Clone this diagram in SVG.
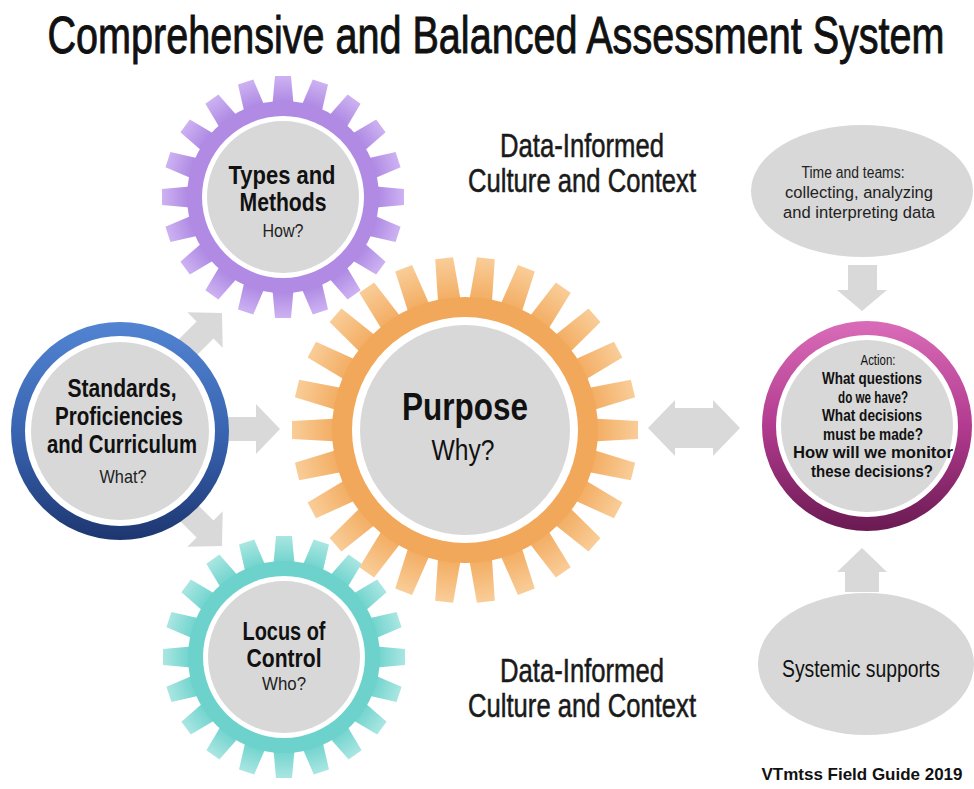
<svg xmlns="http://www.w3.org/2000/svg" width="974" height="789" viewBox="0 0 974 789">
<defs>
<style>
text{font-family:"Liberation Sans",Arial,sans-serif;fill:#111;text-anchor:middle}
.b{font-weight:bold}
.title{font-size:40px;stroke:#111;stroke-width:0.7px}
.ctx{font-size:28px;fill:#1a1a1a;stroke:#1a1a1a;stroke-width:0.45px}
.g1{font-size:21px;font-weight:bold}
.g2{font-size:16px;fill:#222}
.act{font-size:15px;font-weight:bold}
.ell{font-size:15px;fill:#222}
.arrow{fill:#d9d9d9}
.grey{fill:#d8d8d8}
</style>
<linearGradient id="tPurple" x1="0" y1="0" x2="0" y2="1"><stop offset="0" stop-color="#cdb2f2"/><stop offset="1" stop-color="#ad87e2"/></linearGradient>
<linearGradient id="tOrange" x1="0" y1="0" x2="0" y2="1"><stop offset="0" stop-color="#f9cd98"/><stop offset="1" stop-color="#f2aa5e"/></linearGradient>
<linearGradient id="tTeal" x1="0" y1="0" x2="0" y2="1"><stop offset="0" stop-color="#aae6e2"/><stop offset="1" stop-color="#6fd3cd"/></linearGradient>
<linearGradient id="gBlue" x1="0" y1="0" x2="0" y2="1"><stop offset="0" stop-color="#5284d2"/><stop offset="0.55" stop-color="#3761ad"/><stop offset="1" stop-color="#1d3670"/></linearGradient>
<linearGradient id="gMag" x1="0" y1="0" x2="0" y2="1"><stop offset="0" stop-color="#d96cb8"/><stop offset="0.5" stop-color="#b23b8f"/><stop offset="1" stop-color="#6a1a52"/></linearGradient>
<path id="tS" d="M -10.5,-93 L -8,-121 L 8,-121 L 10.5,-93 Z"/>
<path id="tB" d="M -11.5,-127 L -9,-173 L 9,-173 L 11.5,-127 Z"/>
<path id="arr" d="M -110,-12 H -24 V -25 L 0,0 L -24,25 V 12 H -110 Z"/>
</defs>
<rect width="974" height="789" fill="#fff"/>

<text class="title" transform="translate(496,53) scale(1,1.28)" textLength="897" lengthAdjust="spacingAndGlyphs">Comprehensive and Balanced Assessment System</text>

<g id="connectors" class="arrow">
<use href="#arr" transform="translate(222,313) rotate(-45)"/>
<use href="#arr" transform="translate(280,429)"/>
<use href="#arr" transform="translate(222,546) rotate(45)"/>
<path d="M 648,428 L 675,400 V 408 H 713 V 400 L 740,428 L 713,456 V 448 H 675 V 456 Z"/>
<path d="M 848,265 H 877 V 290 H 887 L 862,311 L 837,290 H 848 Z"/>
<path d="M 862,548 L 887,572 H 879 V 592 H 845 V 572 H 837 Z"/>
</g>

<g id="purpose-gear" transform="translate(465,430)">
<g fill="url(#tOrange)">
<use href="#tB" transform="rotate(90)"/><use href="#tB" transform="rotate(103.846)"/><use href="#tB" transform="rotate(117.692)"/><use href="#tB" transform="rotate(131.538)"/><use href="#tB" transform="rotate(145.385)"/><use href="#tB" transform="rotate(159.231)"/><use href="#tB" transform="rotate(173.077)"/><use href="#tB" transform="rotate(186.923)"/><use href="#tB" transform="rotate(200.769)"/><use href="#tB" transform="rotate(214.615)"/><use href="#tB" transform="rotate(228.462)"/><use href="#tB" transform="rotate(242.308)"/><use href="#tB" transform="rotate(256.154)"/><use href="#tB" transform="rotate(270)"/><use href="#tB" transform="rotate(283.846)"/><use href="#tB" transform="rotate(297.692)"/><use href="#tB" transform="rotate(311.538)"/><use href="#tB" transform="rotate(325.385)"/><use href="#tB" transform="rotate(339.231)"/><use href="#tB" transform="rotate(353.077)"/><use href="#tB" transform="rotate(6.923)"/><use href="#tB" transform="rotate(20.769)"/><use href="#tB" transform="rotate(34.615)"/><use href="#tB" transform="rotate(48.462)"/><use href="#tB" transform="rotate(62.308)"/><use href="#tB" transform="rotate(76.154)"/>
</g>
<circle r="133" fill="#f2a85a"/>
<circle r="113" fill="#fff"/>
<circle r="105" class="grey"/>
<text class="b" font-size="33" transform="translate(0,-10) scale(1,1.2)" textLength="126" lengthAdjust="spacingAndGlyphs">Purpose</text>
<text font-size="24" fill="#222" transform="translate(-2,30) scale(1,1.2)" textLength="63" lengthAdjust="spacingAndGlyphs">Why?</text>
</g>

<g id="types-gear" transform="translate(283,197)">
<g fill="url(#tPurple)">
<use href="#tS"/><use href="#tS" transform="rotate(18)"/><use href="#tS" transform="rotate(36)"/><use href="#tS" transform="rotate(54)"/><use href="#tS" transform="rotate(72)"/><use href="#tS" transform="rotate(90)"/><use href="#tS" transform="rotate(108)"/><use href="#tS" transform="rotate(126)"/><use href="#tS" transform="rotate(144)"/><use href="#tS" transform="rotate(162)"/><use href="#tS" transform="rotate(180)"/><use href="#tS" transform="rotate(198)"/><use href="#tS" transform="rotate(216)"/><use href="#tS" transform="rotate(234)"/><use href="#tS" transform="rotate(252)"/><use href="#tS" transform="rotate(270)"/><use href="#tS" transform="rotate(288)"/><use href="#tS" transform="rotate(306)"/><use href="#tS" transform="rotate(324)"/><use href="#tS" transform="rotate(342)"/>
</g>
<circle r="96" fill="#b08ae3"/>
<circle r="81" fill="#fff"/>
<circle r="76" class="grey"/>
<text class="g1" transform="translate(-1,-13) scale(1,1.2)" textLength="107" lengthAdjust="spacingAndGlyphs">Types and</text>
<text class="g1" transform="translate(0,14) scale(1,1.2)" textLength="87" lengthAdjust="spacingAndGlyphs">Methods</text>
<text class="g2" transform="translate(0,40) scale(1,1.2)" textLength="41" lengthAdjust="spacingAndGlyphs">How?</text>
</g>

<g id="locus-gear" transform="translate(284,657)">
<g fill="url(#tTeal)">
<use href="#tS"/><use href="#tS" transform="rotate(18)"/><use href="#tS" transform="rotate(36)"/><use href="#tS" transform="rotate(54)"/><use href="#tS" transform="rotate(72)"/><use href="#tS" transform="rotate(90)"/><use href="#tS" transform="rotate(108)"/><use href="#tS" transform="rotate(126)"/><use href="#tS" transform="rotate(144)"/><use href="#tS" transform="rotate(162)"/><use href="#tS" transform="rotate(180)"/><use href="#tS" transform="rotate(198)"/><use href="#tS" transform="rotate(216)"/><use href="#tS" transform="rotate(234)"/><use href="#tS" transform="rotate(252)"/><use href="#tS" transform="rotate(270)"/><use href="#tS" transform="rotate(288)"/><use href="#tS" transform="rotate(306)"/><use href="#tS" transform="rotate(324)"/><use href="#tS" transform="rotate(342)"/>
</g>
<circle r="96" fill="#6dd2cc"/>
<circle r="81" fill="#fff"/>
<circle r="76" class="grey"/>
<text class="g1" transform="translate(0,-17) scale(1,1.2)" textLength="83" lengthAdjust="spacingAndGlyphs">Locus of</text>
<text class="g1" transform="translate(0,10) scale(1,1.2)" textLength="75" lengthAdjust="spacingAndGlyphs">Control</text>
<text class="g2" transform="translate(0,33) scale(1,1.2)" textLength="44" lengthAdjust="spacingAndGlyphs">Who?</text>
</g>

<g id="standards-node">
<circle cx="120" cy="431" r="109" fill="url(#gBlue)"/>
<circle cx="120" cy="431" r="95" fill="#fff"/>
<circle cx="120" cy="431" r="89" class="grey"/>
<text class="g1" transform="translate(122,397) scale(1,1.2)" textLength="109" lengthAdjust="spacingAndGlyphs">Standards,</text>
<text class="g1" transform="translate(119,425) scale(1,1.2)" textLength="128" lengthAdjust="spacingAndGlyphs">Proficiencies</text>
<text class="g1" transform="translate(122,453) scale(1,1.2)" textLength="150" lengthAdjust="spacingAndGlyphs">and Curriculum</text>
<text class="g2" transform="translate(123,483) scale(1,1.2)" textLength="47" lengthAdjust="spacingAndGlyphs">What?</text>
</g>

<g id="action-node">
<circle cx="867" cy="426" r="105" fill="url(#gMag)"/>
<circle cx="867" cy="426" r="91" fill="#fff"/>
<circle cx="867" cy="426" r="86" class="grey"/>
<text font-size="12" fill="#222" transform="translate(878,365) scale(1,1.15)" textLength="35" lengthAdjust="spacingAndGlyphs">Action:</text>
<text class="act" transform="translate(872,384) scale(1,1.15)" textLength="100" lengthAdjust="spacingAndGlyphs">What questions</text>
<text class="act" transform="translate(873,403) scale(1,1.15)" textLength="70" lengthAdjust="spacingAndGlyphs">do we have?</text>
<text class="act" transform="translate(872,421) scale(1,1.15)" textLength="100" lengthAdjust="spacingAndGlyphs">What decisions</text>
<text class="act" transform="translate(873,440) scale(1,1.15)" textLength="100" lengthAdjust="spacingAndGlyphs">must be made?</text>
<text class="act" transform="translate(873,458) scale(1,1.15)" textLength="160" lengthAdjust="spacingAndGlyphs">How will we monitor</text>
<text class="act" transform="translate(872,477) scale(1,1.15)" textLength="122" lengthAdjust="spacingAndGlyphs">these decisions?</text>
</g>

<g id="time-teams-node">
<ellipse cx="862" cy="191" rx="111" ry="66" class="grey"/>
<text class="ell" transform="translate(853,178) scale(1,1.15)" textLength="103" lengthAdjust="spacingAndGlyphs">Time and teams:</text>
<text class="ell" transform="translate(859,198) scale(1,1.15)" textLength="148" lengthAdjust="spacingAndGlyphs">collecting, analyzing</text>
<text class="ell" transform="translate(859,218) scale(1,1.15)" textLength="152" lengthAdjust="spacingAndGlyphs">and interpreting data</text>
</g>

<g id="systemic-node">
<ellipse cx="866" cy="664" rx="108" ry="71" class="grey"/>
<text font-size="20" fill="#222" transform="translate(861,677) scale(1,1.2)" textLength="158" lengthAdjust="spacingAndGlyphs">Systemic supports</text>
</g>

<g id="context-labels">
<text class="ctx" transform="translate(582,157) scale(1,1.2)" textLength="164" lengthAdjust="spacingAndGlyphs">Data-Informed</text>
<text class="ctx" transform="translate(582,192) scale(1,1.2)" textLength="228" lengthAdjust="spacingAndGlyphs">Culture and Context</text>
<text class="ctx" transform="translate(582,682) scale(1,1.2)" textLength="164" lengthAdjust="spacingAndGlyphs">Data-Informed</text>
<text class="ctx" transform="translate(582,717) scale(1,1.2)" textLength="228" lengthAdjust="spacingAndGlyphs">Culture and Context</text>
</g>

<text class="b" font-size="14" fill="#6e6e6e" transform="translate(862,780) scale(1,1.2)" textLength="201" lengthAdjust="spacingAndGlyphs">VTmtss Field Guide 2019</text>
</svg>
